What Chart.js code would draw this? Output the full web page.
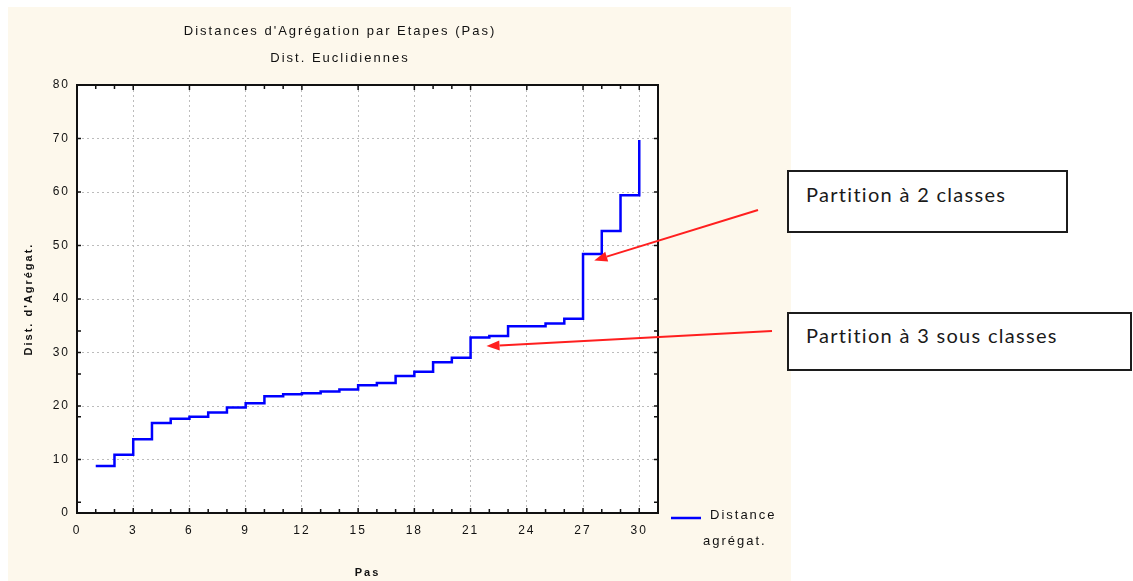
<!DOCTYPE html>
<html lang="fr">
<head>
<meta charset="UTF-8">
<title>Distances d'Agrégation par Etapes</title>
<script src="https://cdn.jsdelivr.net/npm/chart.js"></script>
<style>
  body { margin: 0; background: #fff; }
  #wrap { position: relative; width: 1133px; height: 581px; }
  .note { position: absolute; box-sizing: border-box; border: 2px solid #1c1c1c; background: #fff;
          font-family: Lato, 'Open Sans', sans-serif; font-size: 20px; line-height: 24px; letter-spacing: 1.3px;
          color: #1a1a1a; padding-left: 17px; white-space: nowrap; }
</style>
</head>
<body>
<div id="wrap">
  <canvas id="chart"></canvas>
  <div class="note" style="left:787px; top:170px; width:281px; height:63px; padding-top:10px;">Partition à 2 classes</div>
  <div class="note" style="left:787px; top:312px; width:345px; height:59px; padding-top:9px;">Partition à 3 sous classes</div>
</div>
<script>
// agglomeration distance reached at each step
const steps = [1, 2, 3, 4, 5, 6, 7, 8, 9, 10, 11, 12, 13, 14, 15,
               16, 17, 18, 19, 20, 21, 22, 23, 24, 25, 26, 27, 28, 29, 30];
const distances = [8.8, 10.9, 13.8, 16.8, 17.6, 18.0, 18.8, 19.7, 20.5, 21.8, 22.2, 22.4, 22.7, 23.1, 23.9,
                   24.3, 25.6, 26.4, 28.2, 29.0, 32.8, 33.1, 34.9, 34.9, 35.4, 36.3, 48.4, 52.7, 59.4, 69.7];

const xTicks = [0, 3, 6, 9, 12, 15, 18, 21, 24, 27, 30];
const yTicks = [0, 10, 20, 30, 40, 50, 60, 70, 80];
// small inward tick marks on the frame
const xMinorBottom = [1, 2, 4, 5, 7, 8, 10, 11, 13, 14, 16, 17, 19, 20, 22, 23, 25, 26, 28, 29];
const xMinorTop = [1, 2, 10, 11, 19, 20, 28, 29];
const yMinor = [2, 18, 26, 34];

// arrows: start in page pixels, tip in data units
const arrows = [
  { from: [758, 210], to: [27.6, 47.2] },
  { from: [772, 331], to: [21.85, 31.2] }
];

const FONT = 'Liberation Sans';
const INK = '#111';

const frame = {
  id: 'frame',
  beforeDraw(chart) {
    const { ctx, chartArea: a } = chart;
    ctx.save();
    ctx.fillStyle = '#fdf8ec';
    ctx.fillRect(8, 7, 783, 574);
    ctx.fillStyle = '#fff';
    ctx.fillRect(a.left, a.top, a.right - a.left, a.bottom - a.top);
    ctx.restore();
    ctx.letterSpacing = '2px';
  },
  afterDraw(chart) {
    const { ctx, chartArea: a, scales: { x, y } } = chart;
    ctx.save();
    ctx.strokeStyle = INK;
    ctx.lineWidth = 2;
    ctx.strokeRect(a.left, a.top, a.right - a.left, a.bottom - a.top);

    ctx.lineWidth = 1.5;
    ctx.beginPath();
    const bottomTick = (v, len) => { const p = x.getPixelForValue(v); ctx.moveTo(p, a.bottom); ctx.lineTo(p, a.bottom - len); };
    const topTick = (v, len) => { const p = x.getPixelForValue(v); ctx.moveTo(p, a.top); ctx.lineTo(p, a.top + len); };
    const sideTick = (v, len) => {
      const p = y.getPixelForValue(v);
      ctx.moveTo(a.left, p); ctx.lineTo(a.left + len, p);
      ctx.moveTo(a.right, p); ctx.lineTo(a.right - len, p);
    };
    xTicks.forEach(v => { bottomTick(v, 5); topTick(v, 5); });
    xMinorBottom.forEach(v => bottomTick(v, 4));
    xMinorTop.forEach(v => topTick(v, 4));
    yTicks.forEach(v => sideTick(v, 4));
    yMinor.forEach(v => sideTick(v, 4));
    ctx.stroke();

    // legend
    const ds = chart.data.datasets[0];
    ctx.strokeStyle = ds.borderColor;
    ctx.lineWidth = 2.5;
    ctx.beginPath();
    ctx.moveTo(a.right + 13, a.bottom + 5);
    ctx.lineTo(a.right + 43, a.bottom + 5);
    ctx.stroke();
    ctx.fillStyle = INK;
    ctx.font = '13px "' + FONT + '"';
    ctx.textBaseline = 'middle';
    const [l1, l2] = ds.label.split(' ');
    ctx.fillText(l1, a.right + 52, a.bottom + 2);
    ctx.fillText(l2, a.right + 45, a.bottom + 28);

    // arrows
    ctx.strokeStyle = ctx.fillStyle = '#ff1f1f';
    ctx.lineWidth = 2;
    arrows.forEach(ar => {
      const [sx, sy] = ar.from;
      const tx = x.getPixelForValue(ar.to[0]);
      const ty = y.getPixelForValue(ar.to[1]);
      const ang = Math.atan2(ty - sy, tx - sx);
      const head = 13, half = 5;
      const bx = tx - head * Math.cos(ang), by = ty - head * Math.sin(ang);
      ctx.beginPath();
      ctx.moveTo(sx, sy);
      ctx.lineTo(bx, by);
      ctx.stroke();
      ctx.beginPath();
      ctx.moveTo(tx, ty);
      ctx.lineTo(bx + half * Math.sin(ang), by - half * Math.cos(ang));
      ctx.lineTo(bx - half * Math.sin(ang), by + half * Math.cos(ang));
      ctx.closePath();
      ctx.fill();
    });
    ctx.restore();
  }
};

const gridStyle = { color: '#bcbcbc', lineWidth: 1, drawTicks: false };
const borderStyle = { display: false, dash: [2, 3] };

new Chart(document.getElementById('chart'), {
  type: 'line',
  data: {
    datasets: [{
      label: 'Distance agrégat.',
      data: steps.map((s, i) => ({ x: s, y: distances[i] })),
      borderColor: '#0000ff',
      borderWidth: 2.5,
      stepped: true,
      pointRadius: 0,
      fill: false
    }]
  },
  options: {
    responsive: true,
    maintainAspectRatio: false,
    animation: false,
    layout: { padding: { left: 22, right: 475, top: 0, bottom: 0 } },
    plugins: {
      legend: { display: false },
      tooltip: { enabled: false },
      title: {
        display: true,
        text: "Distances d'Agrégation par Etapes (Pas)",
        color: INK,
        font: { family: FONT, size: 13, weight: 'normal', lineHeight: 1.2 },
        padding: { top: 23.2, bottom: 0 }
      },
      subtitle: {
        display: true,
        text: 'Dist. Euclidiennes',
        color: INK,
        font: { family: FONT, size: 13, weight: 'normal', lineHeight: 1.2 },
        padding: { top: 11.4, bottom: 19.2 }
      }
    },
    scales: {
      x: {
        type: 'linear',
        min: 0,
        max: 31,
        afterBuildTicks: s => { s.ticks = xTicks.map(v => ({ value: v })); },
        grid: gridStyle,
        border: borderStyle,
        ticks: { color: INK, padding: 10, autoSkip: false, maxRotation: 0, font: { family: FONT, size: 12 } },
        title: {
          display: true, text: 'Pas', color: INK,
          font: { family: FONT, size: 11, weight: 'bold', lineHeight: 1.2 },
          padding: { top: 19, bottom: 1.4 }
        }
      },
      y: {
        min: 0,
        max: 80,
        afterBuildTicks: s => { s.ticks = yTicks.map(v => ({ value: v })); },
        afterFit: s => { s.width = 55; },
        grid: gridStyle,
        border: borderStyle,
        ticks: { color: INK, padding: 7, font: { family: FONT, size: 12 } },
        title: {
          display: true, text: "Dist. d'Agrégat.", color: INK,
          font: { family: FONT, size: 11, weight: 'bold', lineHeight: 1.2 },
          padding: { top: 0, bottom: 0 }
        }
      }
    }
  },
  plugins: [frame]
});
</script>
</body>
</html>
